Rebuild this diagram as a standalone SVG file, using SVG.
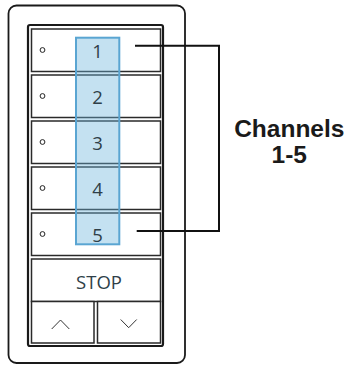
<svg xmlns="http://www.w3.org/2000/svg" width="347" height="366" viewBox="0 0 347 366">
<style>
.btn{fill:#fff;stroke:#2a2a2a;stroke-width:1.5}
.dot{fill:#fff;stroke:#222;stroke-width:1}
.num{font-family:"Open Sans","Noto Sans",sans-serif;font-size:18.5px;fill:#2f3f48;text-anchor:middle}
.lead{fill:none;stroke:#111;stroke-width:2}
.chev{fill:none;stroke:#333;stroke-width:1}
.lbl{font-family:"Liberation Sans",Arial,sans-serif;font-weight:bold;font-size:24.5px;fill:#1a1a1a;text-anchor:middle}
</style>
<rect x="0" y="0" width="347" height="366" fill="#fff"/>
<g id="device">
<rect x="8.5" y="5.5" width="176.5" height="357.5" rx="8" fill="#fff" stroke="#1a1a1a" stroke-width="1.8"/>
<rect x="28" y="25" width="135" height="321" rx="2" fill="#fff" stroke="#1a1a1a" stroke-width="2.2"/>
</g>
<g id="btn1"><rect class="btn" x="31.5" y="29" width="129" height="42.5"/><circle class="dot" cx="42.5" cy="50" r="2.4"/></g>
<g id="btn2"><rect class="btn" x="31.5" y="75" width="129" height="42.5"/><circle class="dot" cx="42.5" cy="96" r="2.4"/></g>
<g id="btn3"><rect class="btn" x="31.5" y="121" width="129" height="42.5"/><circle class="dot" cx="42.5" cy="142" r="2.4"/></g>
<g id="btn4"><rect class="btn" x="31.5" y="167" width="129" height="42.5"/><circle class="dot" cx="42.5" cy="188" r="2.4"/></g>
<g id="btn5"><rect class="btn" x="31.5" y="213" width="129" height="42.5"/><circle class="dot" cx="42.5" cy="234" r="2.4"/></g>
<g id="stop"><rect class="btn" x="31.5" y="259" width="129" height="42.5"/><text x="99" y="288.5" class="num">STOP</text></g>
<g id="up"><rect class="btn" x="31.5" y="301.5" width="62.5" height="41.5"/><polyline class="chev" points="51.7,329 60.5,320 69.3,329"/></g>
<g id="down"><rect class="btn" x="97.5" y="301.5" width="63" height="41.5"/><polyline class="chev" points="120.7,319.5 128.7,327.7 136.7,319.5"/></g>
<g id="channels">
<rect x="76" y="37.7" width="43.3" height="206.6" fill="#6bb3dc" fill-opacity="0.4" stroke="#5aa5d2" stroke-width="2"/>
<text x="97.5" y="58.3" class="num">1</text>
<text x="97.5" y="104.3" class="num">2</text>
<text x="97.5" y="150.3" class="num">3</text>
<text x="97.5" y="196.3" class="num">4</text>
<text x="97.5" y="242.3" class="num">5</text>
</g>
<g id="connectors">
<polyline class="lead" points="135,45.7 219,45.7 219,231 136.7,231"/>
</g>
<g id="label">
<text x="289.3" y="136.7" class="lbl">Channels</text>
<text x="289.3" y="163.3" class="lbl">1-5</text>
</g>
</svg>
